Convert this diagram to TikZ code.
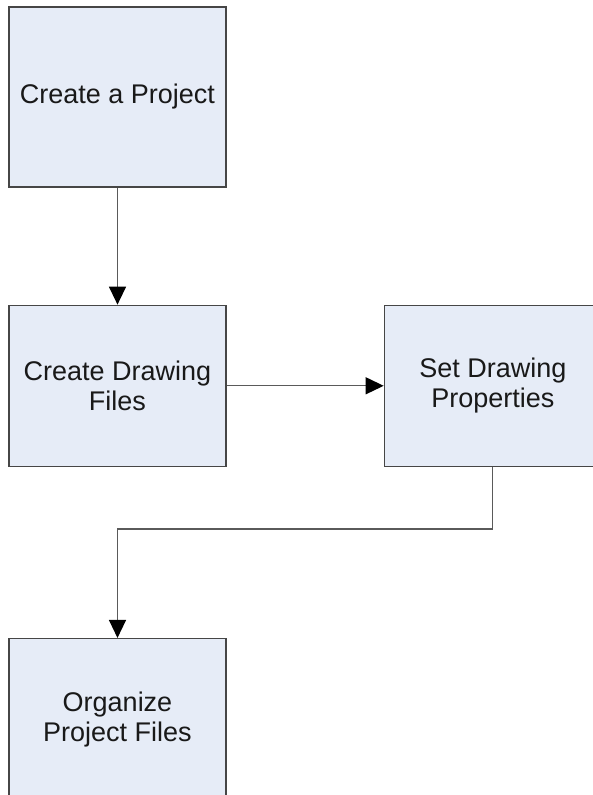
\documentclass[tikz,border=0pt]{standalone}
\usepackage{fontspec}
\setmainfont{Liberation Sans}
\usepackage{tikz}
\usetikzlibrary{arrows.meta,positioning}
\definecolor{boxfill}{RGB}{230,236,247}
\definecolor{boxline}{RGB}{70,70,70}
\definecolor{connline}{RGB}{90,90,90}

\begin{document}
\begin{tikzpicture}[
    block/.style={rectangle, draw=boxline, fill=boxfill, line width=1.3pt, minimum width=217pt, minimum height=161pt, align=center, text=black!90, font=\fontsize{27}{30}\selectfont},
    conn/.style={draw=connline, line width=1.3pt, -{Triangle[length=18pt, width=17pt, black]}}
]
    \useasboundingbox (0,0) rectangle (593pt,795pt);

    \node[block, minimum height=180pt] (project) at (117.5pt,698pt) {Create a Project};
    \node[block, below=117pt of project] (drawing) {Create Drawing\\Files};
    \node[block, right=157pt of drawing] (props) {Set Drawing\\Properties};
    \node[block, below=171pt of drawing] (organize) {Organize\\Project Files};

    \draw[conn] (project) -- (drawing);
    \draw[conn] (drawing) -- (props);
    \draw[conn] (props.south) -- ++(0,-62pt) -| (organize.north);
\end{tikzpicture}
\end{document}
